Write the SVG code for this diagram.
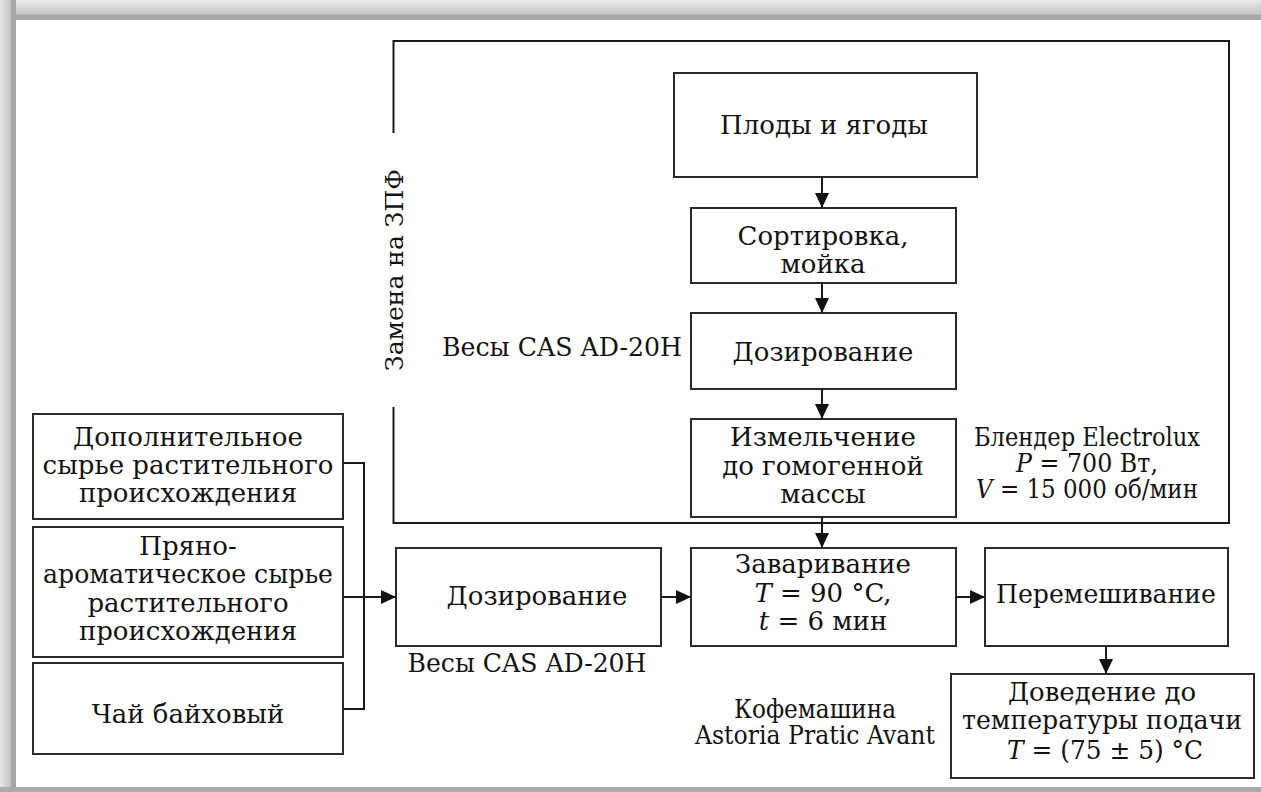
<svg xmlns="http://www.w3.org/2000/svg" width="1261" height="792" viewBox="0 0 1261 792">
<defs>
<linearGradient id="gTop" x1="0" y1="0" x2="0" y2="1">
<stop offset="0" stop-color="#ececec"/><stop offset="0.35" stop-color="#d6d6d6"/><stop offset="0.7" stop-color="#c8c8c8"/><stop offset="0.75" stop-color="#a8a8a8"/><stop offset="1" stop-color="#a6a6a6"/>
</linearGradient>
<linearGradient id="gLeft" x1="0" y1="0" x2="1" y2="0">
<stop offset="0" stop-color="#e6e6e6"/><stop offset="0.4" stop-color="#d2d2d2"/><stop offset="0.65" stop-color="#c6c6c6"/><stop offset="0.7" stop-color="#a8a8a8"/><stop offset="1" stop-color="#a6a6a6"/>
</linearGradient>
<marker id="ah" viewBox="0 0 15 14" refX="15" refY="7" markerWidth="15" markerHeight="14" markerUnits="userSpaceOnUse" orient="auto">
<path d="M0,0 L15,7 L0,14 Z" fill="#111"/>
</marker>
<style>
.box{fill:#fff;stroke:#2a2a2a;stroke-width:2}
.ln{fill:none;stroke:#1a1a1a;stroke-width:2}
.i{font-style:italic}
text{font-family:"DejaVu Serif","Liberation Serif",serif}
</style>
</defs>
<rect x="0" y="0" width="1261" height="792" fill="#fff"/>
<rect x="0" y="0" width="1261" height="20" fill="url(#gTop)"/>
<rect x="0" y="0" width="16" height="792" fill="url(#gLeft)"/>
<rect x="0" y="787" width="1261" height="5" fill="#aaaaaa"/>

<g font-size="26" fill="#111" text-anchor="middle">
<g id="frame-zpf">
<path class="ln" d="M393.5,133 V41 H1229 V523 H393.5 V407"/>
<text transform="translate(403,270) rotate(-90)" font-size="25">Замена на ЗПФ</text>
</g>

<g id="n-plody"><rect class="box" x="674" y="73" width="303" height="104"/><text x="824" y="134">Плоды и ягоды</text></g>
<g id="n-sort"><rect class="box" x="691" y="208" width="265" height="75"/><text x="823" y="245">Сортировка,</text><text x="823" y="273">мойка</text></g>
<g id="n-doz1"><rect class="box" x="691" y="313" width="265" height="76"/><text x="823" y="361">Дозирование</text></g>
<g id="l-vesy1"><text x="562" y="356" textLength="240" lengthAdjust="spacingAndGlyphs">Весы CAS AD-20H</text></g>
<g id="n-izm"><rect class="box" x="691" y="419" width="265" height="98"/><text x="823" y="446">Измельчение</text><text x="823" y="475">до гомогенной</text><text x="823" y="503">массы</text></g>
<g id="l-blender"><text x="1087" y="446" textLength="226" lengthAdjust="spacingAndGlyphs">Блендер Electrolux</text><text x="1087" y="472" textLength="142" lengthAdjust="spacingAndGlyphs"><tspan class="i">P</tspan> = 700 Вт,</text><text x="1087" y="498" textLength="222" lengthAdjust="spacingAndGlyphs"><tspan class="i">V</tspan> = 15 000 об/мин</text></g>

<g id="n-dop"><rect class="box" x="33" y="414" width="310" height="105"/><text x="188" y="446">Дополнительное</text><text x="188" y="474">сырье растительного</text><text x="188" y="502">происхождения</text></g>
<g id="n-pryano"><rect class="box" x="33" y="527" width="310" height="130"/><text x="188" y="555">Пряно-</text><text x="188" y="583" textLength="290" lengthAdjust="spacingAndGlyphs">ароматическое сырье</text><text x="188" y="612">растительного</text><text x="188" y="640">происхождения</text></g>
<g id="n-chai"><rect class="box" x="33" y="663" width="310" height="91"/><text x="188" y="723">Чай байховый</text></g>

<g id="n-doz2"><rect class="box" x="396" y="548" width="265" height="98"/><text x="537" y="605">Дозирование</text></g>
<g id="l-vesy2"><text x="527" y="672" textLength="239" lengthAdjust="spacingAndGlyphs">Весы CAS AD-20H</text></g>
<g id="n-zavar"><rect class="box" x="691" y="548" width="265" height="98"/><text x="823" y="573">Заваривание</text><text x="823" y="602"><tspan class="i">T</tspan> = 90 °C,</text><text x="823" y="630"><tspan class="i">t</tspan> = 6 мин</text></g>
<g id="l-kofe"><text x="815" y="718" textLength="162" lengthAdjust="spacingAndGlyphs">Кофемашина</text><text x="815" y="744" textLength="240" lengthAdjust="spacingAndGlyphs">Astoria Pratic Avant</text></g>
<g id="n-perem"><rect class="box" x="985" y="548" width="243" height="98"/><text x="1106" y="603" textLength="220" lengthAdjust="spacingAndGlyphs">Перемешивание</text></g>
<g id="n-doved"><rect class="box" x="951" y="674" width="303" height="104"/><text x="1102" y="701">Доведение до</text><text x="1102" y="729" textLength="280" lengthAdjust="spacingAndGlyphs">температуры подачи</text><text x="1105" y="759" textLength="196" lengthAdjust="spacingAndGlyphs"><tspan class="i">T</tspan> = (75 ± 5) °C</text></g>
</g>

<g id="connectors">
<path class="ln" d="M822,177 V208" marker-end="url(#ah)"/>
<path class="ln" d="M822,283 V313" marker-end="url(#ah)"/>
<path class="ln" d="M822,389 V419" marker-end="url(#ah)"/>
<path class="ln" d="M822,517 V548" marker-end="url(#ah)"/>
<path class="ln" d="M343,463 H364 V709 H343"/>
<path class="ln" d="M343,597 H396" marker-end="url(#ah)"/>
<path class="ln" d="M661,597 H691" marker-end="url(#ah)"/>
<path class="ln" d="M956,597 H985" marker-end="url(#ah)"/>
<path class="ln" d="M1106,646 V674" marker-end="url(#ah)"/>
</g>
</svg>
